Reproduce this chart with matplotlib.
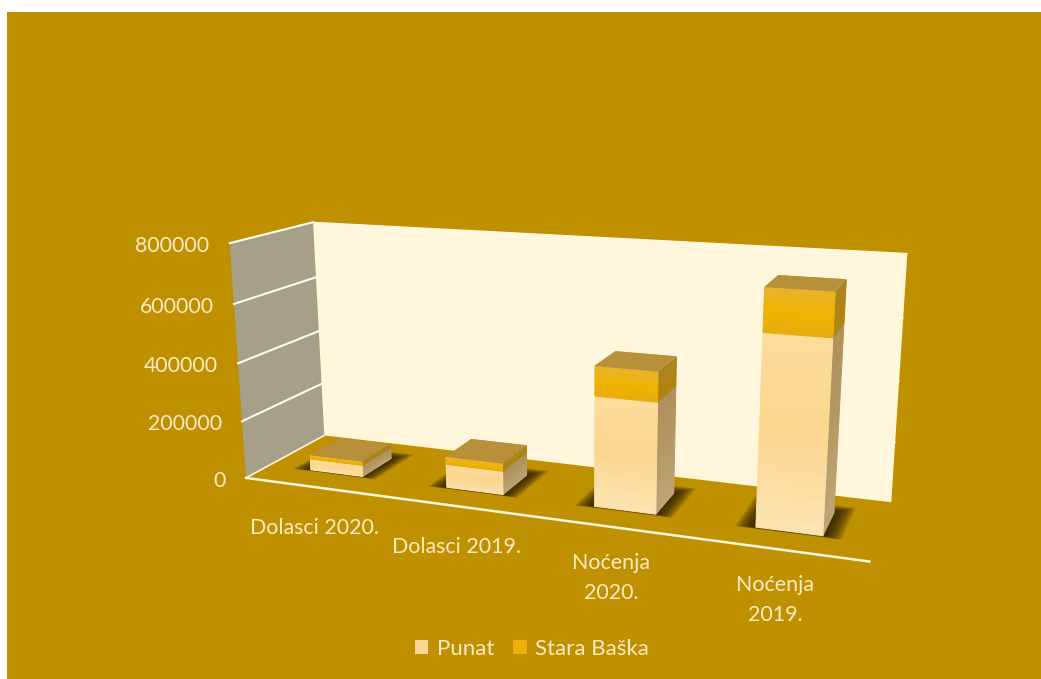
import numpy as np
import matplotlib
matplotlib.use('Agg')
import matplotlib.pyplot as plt
from matplotlib.colors import to_rgb
from matplotlib.patches import Rectangle, Patch
from mpl_toolkits.mplot3d import proj3d
from mpl_toolkits.mplot3d.art3d import Poly3DCollection

W, H = 1041, 679
categories = ['Dolasci 2020.', 'Dolasci 2019.', 'Noćenja\n2020.', 'Noćenja\n2019.']
series_names = ['Punat', 'Stara Baška']
punat = [40000, 80000, 363000, 605000]
stara_baska = [12000, 25000, 95000, 133000]
zticks = [0, 200000, 400000, 600000, 800000]
ztick_labels = ['0', '200000', '400000', '600000', '800000']

ZMAX = zticks[-1]
NCAT = len(categories)
BAR_W, Y0, Y1 = 0.39, 0.30, 0.70
BG = '#BF9000'
TXT = '#FBEBC4'
plt.rcParams['font.family'] = ['Lato', 'DejaVu Sans']

fig = plt.figure(figsize=(W/100, H/100), dpi=100, facecolor='white')
fig.patches.append(Rectangle((7/W, 0), (W-7)/W, (H-12)/H, transform=fig.transFigure,
                             facecolor=BG, edgecolor='none', zorder=-5))
ax = fig.add_axes([204.13/W, -47.16/H, 689.90/W, 689.90/H], projection='3d', computed_zorder=False)
ax.set_xlim(0, NCAT, view_margin=0)
ax.set_ylim(0, 1, view_margin=0)
ax.set_zlim(0, ZMAX, view_margin=0)
ax.view_init(elev=14.623, azim=-69.101, roll=0.264)
ax.set_proj_type('persp', focal_length=0.3455)
ax.set_box_aspect((1, 0.2458, 0.3861))
ax.set_axis_off()
ax.patch.set_alpha(0)


def poly(verts, color, z, alpha=None, seam=False):
    c = Poly3DCollection(verts, facecolor=color, edgecolor=color if seam else 'none',
                         linewidth=0.7 if seam else 0, zorder=z, alpha=alpha)
    c.set_clip_on(False)
    ax.add_collection3d(c)
    return c


def mix(a, b, t):
    a, b = np.array(to_rgb(a)), np.array(to_rgb(b))
    return tuple(a + (b - a)*t)


def ramp(stops, t):
    return mix(stops[0], stops[1], t*2) if t < 0.5 else mix(stops[1], stops[2], (t-0.5)*2)


def shaded_x_face(x, y0, y1, z0, z1, stops, zorder):
    """Face of constant x, with a vertical colour gradient."""
    n = 16
    edges = np.linspace(z0, z1, n+1)
    for k in range(n):
        poly([[(x, y0, edges[k]), (x, y1, edges[k]), (x, y1, edges[k+1]), (x, y0, edges[k+1])]],
             ramp(stops, (k + 0.5)/n), zorder, seam=True)


def shaded_y_face(x0, x1, y, z0, z1, stops, zorder):
    """Face of constant y, with a vertical colour gradient."""
    n = 16
    edges = np.linspace(z0, z1, n+1)
    for k in range(n):
        poly([[(x0, y, edges[k]), (x1, y, edges[k]), (x1, y, edges[k+1]), (x0, y, edges[k+1])]],
             ramp(stops, (k + 0.5)/n), zorder, seam=True)


# walls
poly([[(0, 0, 0), (0, 1, 0), (0, 1, ZMAX), (0, 0, ZMAX)]], '#A6A08A', 1)
poly([[(0, 1, 0), (NCAT, 1, 0), (NCAT, 1, ZMAX), (0, 1, ZMAX)]], '#FFF6DC', 1)
for v in zticks[1:]:
    ax.plot([0, 0], [0, 1], [v, v], color='#FFF9EA', lw=1.5, zorder=2, clip_on=False)
    ax.plot([0, NCAT], [1, 1], [v, v], color='#FFF9E8', lw=0.8, zorder=2, clip_on=False)
ax.plot([0, NCAT], [0, 0], [0, 0], color='#FFF6DC', lw=1.8, zorder=2, clip_on=False)
ax.plot([0, 0], [0, 1], [0, 0], color='#FFF6DC', lw=1.2, zorder=2, clip_on=False)

# bars
for i, (a, b) in enumerate(zip(punat, stara_baska)):
    x0 = i + 0.5 - BAR_W/2
    x1 = x0 + BAR_W
    base = 10 + 3*i
    for k in range(16):
        g = 1 - k/15
        ex, ey0, ey1 = 0.015 + 0.10*g, 0.008 + 0.025*g, 0.015 + 0.11*g
        poly([[(x0-ex, Y0-ey0, 0), (x1+ex, Y0-ey0, 0), (x1+ex, Y1+ey1, 0), (x0-ex, Y1+ey1, 0)]],
             '#2A1E00', base, alpha=0.10)
    # side and front of the two stacked segments, then the top
    shaded_x_face(x1, Y0, Y1, 0, a, ('#BFA676', '#B39A66', '#B0905A'), base+1)
    shaded_y_face(x0, x1, Y0, 0, a, ('#FBE4B4', '#FBD78F', '#FCDC9C'), base+1)
    shaded_x_face(x1, Y0, Y1, a, a+b, ('#B0860E', '#AE8412', '#AA8422'), base+2)
    shaded_y_face(x0, x1, Y0, a, a+b, ('#E8AC0E', '#EFB300', '#E8B32A'), base+2)
    ax.bar3d(x0, Y0, a+b, BAR_W, Y1-Y0, 0, color='#B8903A', shade=False, zorder=base+2).set_clip_on(False)

# axis tick labels, placed from the projected position of each tick on the front wall edge
M = ax.get_proj()
for v, lab in zip(zticks, ztick_labels):
    xp, yp, _ = proj3d.proj_transform(0.0, 0.0, float(v), M)
    ax.annotate(lab, xy=(float(xp), float(yp)), xycoords='data', xytext=(-14.5, -2), textcoords='offset points',
                ha='right', va='center', color=TXT, fontsize=15.3, annotation_clip=False)

# category labels
cat_pos = [(314, 528), (457, 547), (611, 578), (775, 600)]
for lab, (px, py) in zip(categories, cat_pos):
    fig.text(px/W, 1-py/H, lab, ha='center', va='center', color=TXT, fontsize=15.4,
             linespacing=1.65)

handles = [Patch(facecolor='#FBD78F', edgecolor='none'), Patch(facecolor='#EDB008', edgecolor='none')]
fig.legend(handles, series_names, loc='center', bbox_to_anchor=(532/W, 1-649/H), ncol=2, frameon=False,
           fontsize=16, labelcolor=TXT, handlelength=0.6, handleheight=0.55, handletextpad=0.4,
           columnspacing=0.85)

fig.savefig('out.png', dpi=100)
